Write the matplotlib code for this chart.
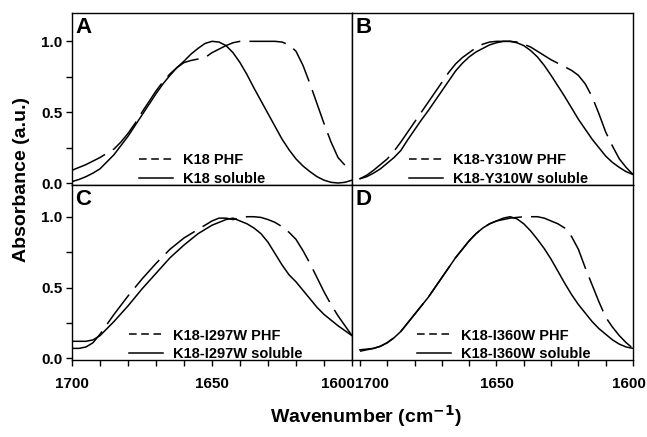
import matplotlib

matplotlib.use("Agg")

import matplotlib.pyplot as plt
from matplotlib.lines import Line2D
from matplotlib.ticker import MultipleLocator

plt.rcParams["font.family"] = ["Liberation Sans", "DejaVu Sans"]
plt.rcParams["font.weight"] = "bold"

wavenumber = [
    1700, 1697.5, 1695, 1692.5, 1690, 1687.5, 1685, 1682.5, 1680, 1677.5,
    1675, 1672.5, 1670, 1667.5, 1665, 1662.5, 1660, 1657.5, 1655, 1652.5,
    1650, 1647.5, 1645, 1642.5, 1640, 1637.5, 1635, 1632.5, 1630, 1627.5,
    1625, 1622.5, 1620, 1617.5, 1615, 1612.5, 1610, 1607.5, 1605, 1602.5,
    1600
]

k18_phf = [
    0.09, 0.11, 0.13, 0.155, 0.18, 0.21, 0.24, 0.29, 0.35, 0.42,
    0.50, 0.575, 0.65, 0.715, 0.77, 0.815, 0.85, 0.865, 0.875, 0.885,
    0.92, 0.945, 0.97, 0.99, 1.00, 1.00, 1.00, 1.00, 1.00, 1.00,
    0.995, 0.975, 0.93, 0.83, 0.70, 0.56, 0.42, 0.29, 0.18, 0.125,
    0.09
]
k18_soluble = [
    0.01, 0.025, 0.045, 0.07, 0.10, 0.15, 0.20, 0.265, 0.33, 0.405,
    0.48, 0.555, 0.63, 0.70, 0.76, 0.815, 0.86, 0.91, 0.95, 0.985,
    1.00, 0.995, 0.97, 0.92, 0.85, 0.765, 0.67, 0.58, 0.49, 0.40,
    0.31, 0.235, 0.17, 0.12, 0.08, 0.045, 0.02, 0.005, 0.00, 0.005,
    0.02
]

y310w_phf = [
    0.03, 0.055, 0.09, 0.13, 0.17, 0.225, 0.29, 0.36, 0.43, 0.50,
    0.57, 0.64, 0.71, 0.78, 0.84, 0.885, 0.92, 0.955, 0.98, 0.995,
    1.00, 1.00, 1.00, 0.995, 0.98, 0.96, 0.93, 0.90, 0.87, 0.845,
    0.82, 0.795, 0.76, 0.70, 0.61, 0.49, 0.36, 0.26, 0.17, 0.11,
    0.06
]
y310w_soluble = [
    0.03, 0.045, 0.07, 0.10, 0.14, 0.18, 0.23, 0.305, 0.375, 0.445,
    0.51, 0.58, 0.65, 0.72, 0.79, 0.845, 0.89, 0.925, 0.95, 0.975,
    0.99, 1.00, 1.00, 0.99, 0.97, 0.935, 0.89, 0.83, 0.76, 0.685,
    0.61, 0.53, 0.45, 0.38, 0.31, 0.25, 0.19, 0.145, 0.11, 0.08,
    0.06
]

i297w_phf = [
    0.07, 0.07, 0.08, 0.11, 0.17, 0.24, 0.31, 0.375, 0.44, 0.50,
    0.56, 0.615, 0.67, 0.72, 0.77, 0.81, 0.85, 0.88, 0.91, 0.94,
    0.97, 0.99, 0.99, 0.98, 0.99, 1.00, 1.00, 0.995, 0.98, 0.96,
    0.93, 0.89, 0.84, 0.76, 0.67, 0.57, 0.47, 0.38, 0.30, 0.23,
    0.16
]
i297w_soluble = [
    0.12, 0.12, 0.12, 0.13, 0.16, 0.21, 0.26, 0.315, 0.37, 0.43,
    0.49, 0.545, 0.60, 0.655, 0.71, 0.755, 0.80, 0.84, 0.88, 0.91,
    0.94, 0.96, 0.98, 0.99, 0.97, 0.95, 0.92, 0.88, 0.82, 0.74,
    0.66, 0.59, 0.54, 0.48, 0.42, 0.36, 0.31, 0.27, 0.23, 0.195,
    0.16
]

i360w_phf = [
    0.05, 0.06, 0.07, 0.085, 0.11, 0.145, 0.19, 0.25, 0.31, 0.37,
    0.43, 0.50, 0.57, 0.64, 0.71, 0.77, 0.83, 0.88, 0.92, 0.95,
    0.97, 0.98, 0.99, 0.995, 1.00, 1.00, 1.00, 0.99, 0.97, 0.95,
    0.92, 0.86, 0.77, 0.64, 0.52, 0.40, 0.29, 0.22, 0.16, 0.11,
    0.07
]
i360w_soluble = [
    0.06, 0.065, 0.07, 0.085, 0.11, 0.145, 0.19, 0.25, 0.31, 0.37,
    0.43, 0.50, 0.57, 0.64, 0.71, 0.77, 0.83, 0.88, 0.92, 0.95,
    0.97, 0.99, 1.00, 0.985, 0.95, 0.90, 0.84, 0.775, 0.70, 0.615,
    0.53, 0.45, 0.38, 0.32, 0.26, 0.21, 0.17, 0.13, 0.10, 0.08,
    0.07
]

panel_letters = ["A", "B", "C", "D"]
phf_labels = ["K18 PHF", "K18-Y310W PHF", "K18-I297W PHF", "K18-I360W PHF"]
soluble_labels = [
    "K18 soluble", "K18-Y310W soluble",
    "K18-I297W soluble", "K18-I360W soluble"
]
x_ticks = [1700, 1650, 1600]

phf_series = [k18_phf, y310w_phf, i297w_phf, i360w_phf]
soluble_series = [k18_soluble, y310w_soluble, i297w_soluble, i360w_soluble]

W, H = 647, 437

# axes boxes in pixels: left, right, top, bottom
boxes = [
    (72, 352, 13, 185),
    (352, 633, 13, 185),
    (72, 352, 185, 360),
    (352, 633, 185, 360),
]
xlims = [(1700, 1600), (1702.9, 1600), (1700, 1600), (1702.9, 1600)]
ylims = [(-0.014, 1.2), (-0.014, 1.2), (-0.012, 1.224), (-0.012, 1.224)]
legend_x = [0.24, 0.203, 0.204, 0.232]

# tick labels set by hand in the bottom row: (panel, tick, x offset pt, ha)
shifted_labels = [
    (2, 1600, 2.2, "right"),
    (3, 1700, -3.6, "left"),
    (3, 1600, -2.9, "center"),
]

fig = plt.figure(
    figsize=(W / 100, H / 100),
    dpi=100
)

for i in range(4):

    left, right, top, bottom = boxes[i]

    ax = fig.add_axes([
        left / W,
        1 - bottom / H,
        (right - left) / W,
        (bottom - top) / H
    ])

    ax.plot(
        wavenumber,
        phf_series[i],
        color="black",
        linewidth=1.1,
        dashes=(24, 6)
    )

    ax.plot(
        wavenumber,
        soluble_series[i],
        color="black",
        linewidth=1.1
    )

    ax.set_xlim(xlims[i])
    ax.set_ylim(ylims[i])

    ax.xaxis.set_minor_locator(MultipleLocator(10))
    ax.yaxis.set_major_locator(MultipleLocator(0.5))
    ax.yaxis.set_minor_locator(MultipleLocator(0.25))
    ax.yaxis.set_major_formatter("{x:.1f}")

    tick_labels = [str(t) for t in x_ticks]
    for panel, tick, dx, ha in shifted_labels:
        if panel == i:
            tick_labels[x_ticks.index(tick)] = ""
            ax.annotate(
                str(tick),
                xy=(tick, 0),
                xycoords=("data", "axes fraction"),
                xytext=(dx, -12),
                textcoords="offset points",
                ha=ha,
                va="top",
                fontsize=11,
                fontweight="bold"
            )
    ax.set_xticks(x_ticks, tick_labels)

    ax.tick_params(
        which="both",
        direction="out",
        length=4,
        width=1,
        labelsize=11,
        pad=3
    )

    ax.tick_params(
        axis="x",
        pad=8
    )

    if i < 2:
        ax.tick_params(axis="x", which="both", bottom=False, labelbottom=False)
    if i % 2 == 1:
        ax.tick_params(axis="y", which="both", left=False, labelleft=False)

    for spine in ax.spines.values():
        spine.set_linewidth(1)

    ax.text(
        0.012,
        0.975,
        panel_letters[i],
        transform=ax.transAxes,
        fontsize=16,
        fontweight="bold",
        va="top",
        ha="left"
    )

    handles = [
        Line2D([], [], color="black", linewidth=1.1, dashes=(5, 3)),
        Line2D([], [], color="black", linewidth=1.1),
    ]

    ax.legend(
        handles,
        [phf_labels[i], soluble_labels[i]],
        loc="lower left",
        bbox_to_anchor=(legend_x[i], -0.005),
        frameon=False,
        fontsize=10.5,
        handlelength=2.3,
        handletextpad=0.7,
        labelspacing=0.3,
        borderpad=0,
        borderaxespad=0
    )

fig.text(
    0.034,
    1 - 180 / H,
    "Absorbance (a.u.)",
    rotation=90,
    fontsize=14,
    fontweight="bold",
    ha="center",
    va="center"
)

fig.text(
    (352 + 14) / W,
    1 - 416 / H,
    "Wavenumber (cm$^{\\mathbf{-1}}$)",
    fontsize=14,
    fontweight="bold",
    ha="center",
    va="center"
)

plt.savefig("out.png", dpi=100)

plt.close()
